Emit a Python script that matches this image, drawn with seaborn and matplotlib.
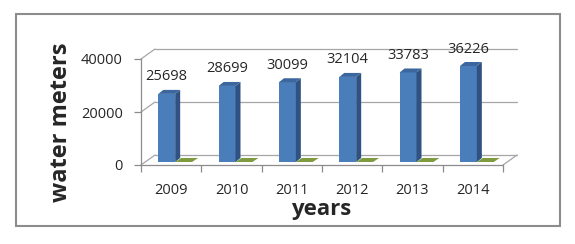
import matplotlib
matplotlib.use("Agg")
import matplotlib.pyplot as plt
import matplotlib.patches as mpatches
import matplotlib.transforms as mtransforms
import pandas as pd
import seaborn as sns

# data
years = ["2009", "2010", "2011", "2012", "2013", "2014"]
water_meters = [25698, 28699, 30099, 32104, 33783, 36226]
second_series = [0, 0, 0, 0, 0, 0]
y_ticks = [0, 20000, 40000]

BLUE_FRONT = "#4A7EBB"
BLUE_SIDE = "#2F5283"
BLUE_TOP = "#3C679E"
GREEN_FRONT = "#77933C"
GREEN_TOP = "#7F9B40"
GREEN_SIDE = "#5E7530"
AXIS_GREY = "#8C8C8C"
GRID_GREY = "#A6A6A6"

sns.set_style("white")
plt.rcParams["font.family"] = ["Open Sans", "DejaVu Sans"]

df = pd.DataFrame({
    "year": years + years,
    "value": water_meters + second_series,
    "series": ["water meters"] * len(years) + ["other"] * len(years),
})

W, H = 575, 244
fig = plt.figure(figsize=(W / 100, H / 100), dpi=100)
ax = fig.add_axes([141 / W, 1 - 165 / H, (503 - 141) / W, (165 - 59) / H])
ax.patch.set_alpha(0)

sns.barplot(
    data=df, x="year", y="value", hue="series",
    order=years, hue_order=["water meters", "other"],
    palette=[BLUE_FRONT, GREEN_FRONT], width=0.56, gap=0,
    saturation=1, legend=False, linewidth=0, ax=ax,
)
ax.set_xlim(-0.5, len(years) - 0.5)
ax.set_ylim(0, y_ticks[-1])
ax.set_autoscale_on(False)

ident = mtransforms.IdentityTransform()
back = mtransforms.offset_copy(ax.transData, fig=fig, x=14, y=10, units="dots")
bar_t = mtransforms.offset_copy(ax.transData, fig=fig, x=4, y=3, units="dots")

# back wall grid + left wall diagonals
x_lo, x_hi = -0.5, len(years) - 0.5
for v in y_ticks:
    ax.plot([x_lo, x_hi], [v, v], transform=back, color=GRID_GREY,
            lw=0.9, clip_on=False, zorder=0.5)
    f = ax.transData.transform((x_lo, v))
    b = back.transform((x_lo, v))
    ax.plot([f[0], b[0]], [f[1], b[1]], transform=ident, color=GRID_GREY,
            lw=0.9, clip_on=False, zorder=0.5)
f = ax.transData.transform((x_hi, 0))
b = back.transform((x_hi, 0))
ax.plot([f[0], b[0]], [f[1], b[1]], transform=ident, color=GRID_GREY,
        lw=0.9, clip_on=False, zorder=0.5)

# 3d faces on the bars
bars = list(ax.patches)
n = len(years)
for i, p in enumerate(bars):
    p.set_transform(bar_t)
    p.set_clip_on(False)
    p.set_zorder(2)
    blue = i < n
    dx, dy = (5, 4) if blue else (6, 4)
    x0, x1, h = p.get_x(), p.get_x() + p.get_width(), p.get_height()
    (ax0, ay0) = bar_t.transform((x0, 0))
    (ax1, ay1) = bar_t.transform((x1, h))
    side = [(ax1, ay0), (ax1, ay1), (ax1 + dx, ay1 + dy), (ax1 + dx, ay0 + dy)]
    top = [(ax0, ay1), (ax1, ay1), (ax1 + dx, ay1 + dy), (ax0 + dx, ay1 + dy)]
    ax.add_patch(mpatches.Polygon(side, closed=True, transform=ident,
                                  facecolor=BLUE_SIDE if blue else GREEN_SIDE,
                                  edgecolor="none", clip_on=False, zorder=2))
    ax.add_patch(mpatches.Polygon(top, closed=True, transform=ident,
                                  facecolor=BLUE_TOP if blue else GREEN_TOP,
                                  edgecolor="none", clip_on=False, zorder=2))
    if blue:
        ax.annotate(f"{water_meters[i]}", xy=(x0 + p.get_width() / 2, h),
                    xycoords=bar_t, xytext=(0, 17), textcoords="offset pixels",
                    ha="center", va="center", fontsize=10.5, zorder=3)

# axes styling
sns.despine(ax=ax, top=True, right=True)
for s in ["left", "bottom"]:
    ax.spines[s].set_color(AXIS_GREY)
    ax.spines[s].set_linewidth(0.9)
ax.set_yticks(y_ticks)
ax.set_yticklabels([str(v) for v in y_ticks])
ax.tick_params(axis="y", length=5, width=0.9, color=AXIS_GREY, pad=8,
               labelsize=10.5, left=True)
ax.set_xticks([i - 0.5 for i in range(n + 1)])
ax.set_xticklabels([])
ax.set_xticks(range(n), minor=True)
ax.set_xticklabels(years, minor=True)
ax.tick_params(axis="x", which="major", length=5, width=0.9, color=AXIS_GREY,
               bottom=True)
ax.tick_params(axis="x", which="minor", length=0, pad=13, labelsize=10.5)
ax.set_xlabel("")
ax.set_ylabel("")

fig.text(61 / W, 1 - 122 / H, "water meters", rotation=90, ha="center",
         va="center", fontsize=17, fontweight="bold")
fig.text(321 / W, 1 - 215 / H, "years", ha="center", va="baseline",
         fontsize=16, fontweight="bold")

fig.add_artist(mpatches.Rectangle((16 / W, 1 - 226 / H), 544 / W, 212 / H,
                                  transform=fig.transFigure, fill=False,
                                  edgecolor=AXIS_GREY, linewidth=1.5))

fig.savefig("out.png", dpi=100)
